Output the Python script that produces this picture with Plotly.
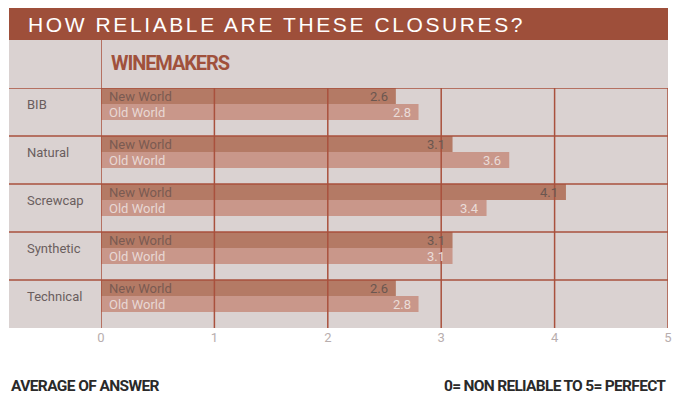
import plotly.graph_objects as go

categories = ["BIB", "Natural", "Screwcap", "Synthetic", "Technical"]
new_world = [2.6, 3.1, 4.1, 3.1, 2.6]
old_world = [2.8, 3.6, 3.4, 3.1, 2.8]
series_names = ["New World", "Old World"]
x_ticks = [0, 1, 2, 3, 4, 5]
title_text = "HOW RELIABLE ARE THESE CLOSURES?"
panel_text = "WINEMAKERS"
left_note = "AVERAGE OF ANSWER"
right_note = "0= NON RELIABLE TO 5= PERFECT"

W, H = 679, 396
L, R, T, B = 101, 11, 88, 68
PW, PH = W - L - R, H - T - B

def px_x(px):
    return (px - L) / PW

def px_y(py):
    return (H - B - py) / PH

BANNER = "#9E4F3A"
PANEL = "#DAD2D1"
LINE = "#A9513D"
NEW_C = "#B47A65"
OLD_C = "#C9978A"
NARROW = "Roboto, Liberation Sans, sans-serif"
BODY = "Roboto, Liberation Sans, sans-serif"

def tight(s, sp):
    return f'<span style="letter-spacing:{sp}px">{s}</span>'

idx = list(range(len(categories)))
band = 1.0 / 3.0

fig = go.Figure()
fig.add_trace(go.Bar(
    y=idx, x=new_world, orientation="h", offset=-0.5, width=band,
    marker=dict(color=NEW_C, line=dict(width=0)), name=series_names[0],
    hoverinfo="x+name"))
fig.add_trace(go.Bar(
    y=idx, x=old_world, orientation="h", offset=-0.5 + band, width=band,
    marker=dict(color=OLD_C, line=dict(width=0)), name=series_names[1],
    hoverinfo="x+name"))

shapes = []
shapes.append(dict(type="rect", xref="paper", yref="paper",
                   x0=px_x(9), x1=1, y0=0, y1=px_y(40),
                   fillcolor=PANEL, line=dict(width=0), layer="below"))
shapes.append(dict(type="rect", xref="paper", yref="paper",
                   x0=px_x(9), x1=1, y0=px_y(40), y1=px_y(8),
                   fillcolor=BANNER, line=dict(width=0), layer="below"))
shapes.append(dict(type="line", xref="x", yref="paper",
                   x0=0, x1=0, y0=0, y1=px_y(40),
                   line=dict(color=LINE, width=1.5), layer="above"))
for t in x_ticks[1:]:
    shapes.append(dict(type="line", xref="x", yref="paper",
                       x0=t, x1=t, y0=0, y1=1,
                       line=dict(color=LINE, width=1.5), layer="above"))
for i in idx:
    shapes.append(dict(type="line", xref="paper", yref="y",
                       x0=px_x(9), x1=1, y0=i - 0.5, y1=i - 0.5,
                       line=dict(color=LINE, width=1.5), layer="above"))

ann = []
ann.append(dict(xref="paper", yref="paper", x=px_x(26), y=px_y(24.5),
                xanchor="left", yanchor="middle", showarrow=False,
                text=tight(title_text, 2.6),
                font=dict(family="Liberation Sans, Arial, sans-serif", size=21, color="#FFFFFF")))
ann.append(dict(xref="paper", yref="paper", x=px_x(109), y=px_y(63),
                xanchor="left", yanchor="middle", showarrow=False,
                text=tight(panel_text, -1.1),
                font=dict(family=NARROW, size=20, color="#A0513C", weight=700)))
ann.append(dict(xref="paper", yref="paper", x=px_x(9), y=px_y(385.5),
                xanchor="left", yanchor="middle", showarrow=False,
                text=tight(left_note, -0.6),
                font=dict(family=NARROW, size=15.5, color="#2A2A2A", weight=700)))
ann.append(dict(xref="paper", yref="paper", x=1, y=px_y(385.5),
                xanchor="right", yanchor="middle", showarrow=False,
                text=tight(right_note, -0.7),
                font=dict(family=NARROW, size=15.5, color="#2A2A2A", weight=700)))

for i, c in enumerate(categories):
    ann.append(dict(xref="paper", yref="y", x=px_x(25), y=i - 0.16,
                    xanchor="left", yanchor="middle", showarrow=False,
                    text=c, font=dict(family=BODY, size=13, color="#6A5E5E")))
    ann.append(dict(xref="x", yref="y", x=0, y=i - 0.5 + band / 2,
                    xanchor="left", yanchor="middle", showarrow=False, xshift=6,
                    text=series_names[0], font=dict(family=BODY, size=13, color="#7A5A52")))
    ann.append(dict(xref="x", yref="y", x=0, y=i - 0.5 + 1.5 * band,
                    xanchor="left", yanchor="middle", showarrow=False, xshift=6,
                    text=series_names[1], font=dict(family=BODY, size=13, color="#E8D8D4")))
    ann.append(dict(xref="x", yref="y", x=new_world[i], y=i - 0.5 + band / 2,
                    xanchor="right", yanchor="middle", showarrow=False, xshift=-6,
                    text=f"{new_world[i]:.1f}", font=dict(family=BODY, size=13, color="#6B5750")))
    ann.append(dict(xref="x", yref="y", x=old_world[i], y=i - 0.5 + 1.5 * band,
                    xanchor="right", yanchor="middle", showarrow=False, xshift=-6,
                    text=f"{old_world[i]:.1f}", font=dict(family=BODY, size=13, color="#EADCD8")))

fig.update_layout(
    width=W, height=H, autosize=False,
    margin=dict(l=L, r=R, t=T, b=B, pad=0, autoexpand=False),
    paper_bgcolor="#FFFFFF", plot_bgcolor="rgba(0,0,0,0)",
    showlegend=False, barmode="overlay",
    shapes=shapes, annotations=ann,
    xaxis=dict(range=[0, 5], tickvals=x_ticks, ticktext=[str(t) for t in x_ticks],
               showgrid=False, zeroline=False, showline=False, ticks="", automargin=False,
               tickfont=dict(family=BODY, size=13, color="#B8AEAE"), fixedrange=True),
    yaxis=dict(range=[len(categories) - 0.5, -0.5], showticklabels=False, automargin=False,
               showgrid=False, zeroline=False, showline=False, fixedrange=True),
)

fig.write_html("out.html", config={"displayModeBar": False})
